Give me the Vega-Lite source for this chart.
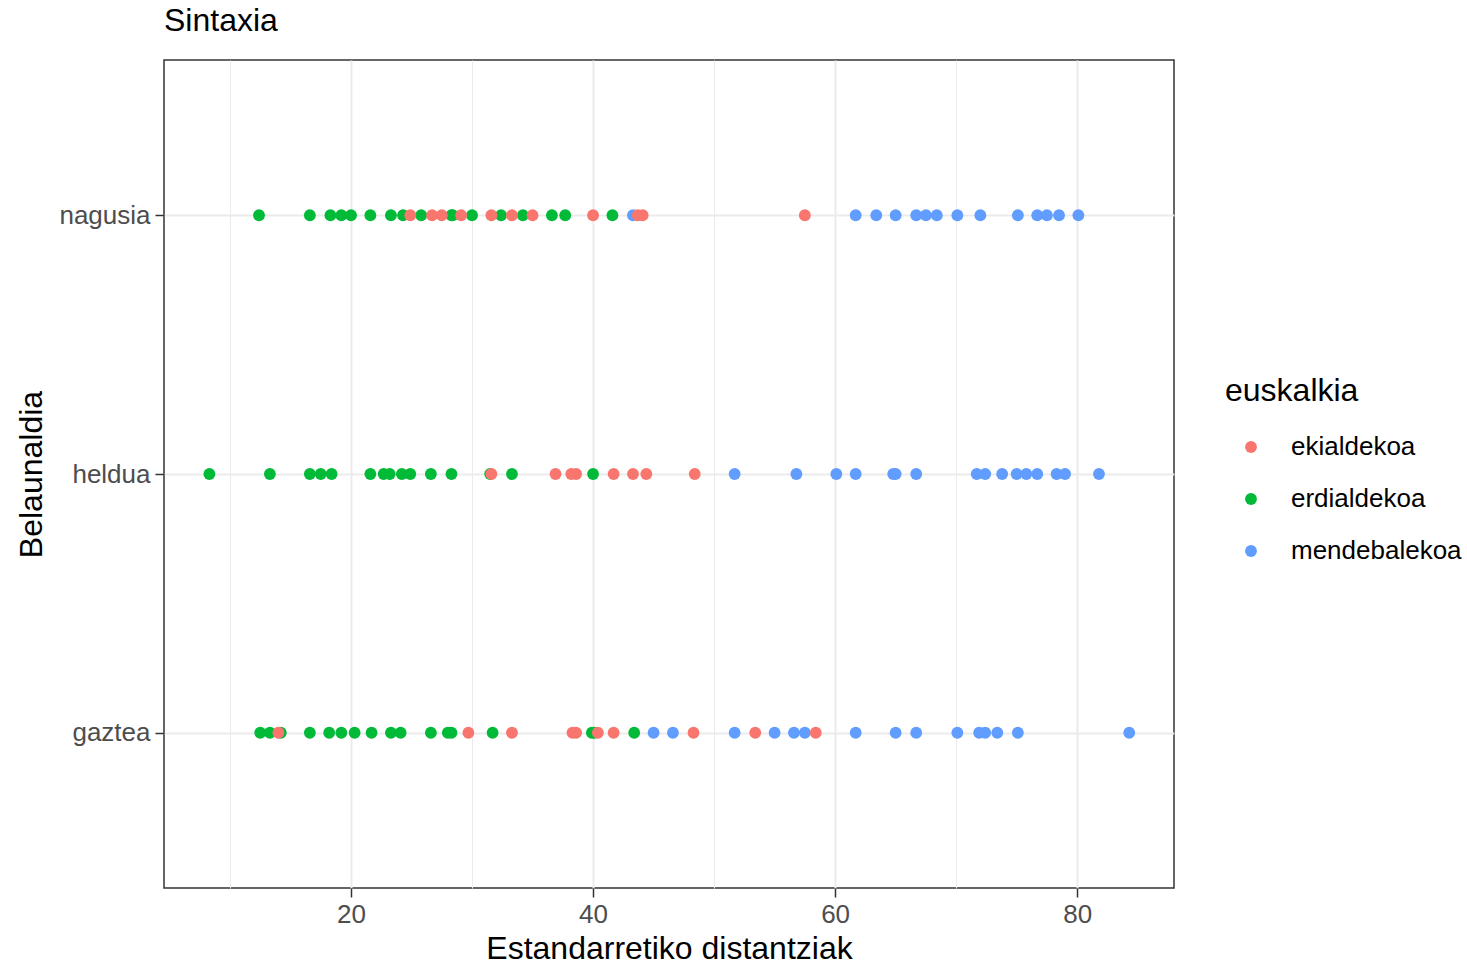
{
  "$schema": "https://vega.github.io/schema/vega-lite/v6.json",
  "width": 1010,
  "height": 828,
  "autosize": "none",
  "padding": {"left": 164, "top": 60, "right": 293, "bottom": 81},
  "background": "white",
  "config": {
    "font": "Liberation Sans",
    "view": {"stroke": "#333333", "strokeWidth": 1.5}
  },
  "title": {"text": "Sintaxia", "anchor": "start", "frame": "group", "fontSize": 32, "fontWeight": "normal", "color": "black", "offset": 22},
  "datasets": {
    "pts": [
      {"b":"nagusia","e":"erdialdekoa","d":12.4},{"b":"nagusia","e":"erdialdekoa","d":16.6},{"b":"nagusia","e":"erdialdekoa","d":18.3},{"b":"nagusia","e":"erdialdekoa","d":19.2},{"b":"nagusia","e":"erdialdekoa","d":20.0},{"b":"nagusia","e":"erdialdekoa","d":21.6},{"b":"nagusia","e":"erdialdekoa","d":23.3},{"b":"nagusia","e":"erdialdekoa","d":24.3},{"b":"nagusia","e":"erdialdekoa","d":25.8},{"b":"nagusia","e":"erdialdekoa","d":28.3},{"b":"nagusia","e":"erdialdekoa","d":28.4},{"b":"nagusia","e":"erdialdekoa","d":30.0},{"b":"nagusia","e":"erdialdekoa","d":32.4},{"b":"nagusia","e":"erdialdekoa","d":34.2},{"b":"nagusia","e":"erdialdekoa","d":36.6},{"b":"nagusia","e":"erdialdekoa","d":37.7},{"b":"nagusia","e":"erdialdekoa","d":41.6},
      {"b":"heldua","e":"erdialdekoa","d":8.3},{"b":"heldua","e":"erdialdekoa","d":13.3},{"b":"heldua","e":"erdialdekoa","d":16.6},{"b":"heldua","e":"erdialdekoa","d":17.5},{"b":"heldua","e":"erdialdekoa","d":18.4},{"b":"heldua","e":"erdialdekoa","d":21.6},{"b":"heldua","e":"erdialdekoa","d":22.7},{"b":"heldua","e":"erdialdekoa","d":23.2},{"b":"heldua","e":"erdialdekoa","d":24.2},{"b":"heldua","e":"erdialdekoa","d":24.9},{"b":"heldua","e":"erdialdekoa","d":26.6},{"b":"heldua","e":"erdialdekoa","d":28.3},{"b":"heldua","e":"erdialdekoa","d":31.5},{"b":"heldua","e":"erdialdekoa","d":33.3},{"b":"heldua","e":"erdialdekoa","d":40.0},
      {"b":"gaztea","e":"erdialdekoa","d":12.5},{"b":"gaztea","e":"erdialdekoa","d":13.3},{"b":"gaztea","e":"erdialdekoa","d":14.2},{"b":"gaztea","e":"erdialdekoa","d":16.6},{"b":"gaztea","e":"erdialdekoa","d":18.2},{"b":"gaztea","e":"erdialdekoa","d":19.2},{"b":"gaztea","e":"erdialdekoa","d":20.3},{"b":"gaztea","e":"erdialdekoa","d":21.7},{"b":"gaztea","e":"erdialdekoa","d":23.3},{"b":"gaztea","e":"erdialdekoa","d":24.1},{"b":"gaztea","e":"erdialdekoa","d":26.6},{"b":"gaztea","e":"erdialdekoa","d":28.0},{"b":"gaztea","e":"erdialdekoa","d":28.3},{"b":"gaztea","e":"erdialdekoa","d":31.7},{"b":"gaztea","e":"erdialdekoa","d":39.9},{"b":"gaztea","e":"erdialdekoa","d":40.1},{"b":"gaztea","e":"erdialdekoa","d":43.4},
      {"b":"nagusia","e":"mendebalekoa","d":43.3},{"b":"nagusia","e":"mendebalekoa","d":61.7},{"b":"nagusia","e":"mendebalekoa","d":63.4},{"b":"nagusia","e":"mendebalekoa","d":65.0},{"b":"nagusia","e":"mendebalekoa","d":66.7},{"b":"nagusia","e":"mendebalekoa","d":67.5},{"b":"nagusia","e":"mendebalekoa","d":68.4},{"b":"nagusia","e":"mendebalekoa","d":70.1},{"b":"nagusia","e":"mendebalekoa","d":72.0},{"b":"nagusia","e":"mendebalekoa","d":75.1},{"b":"nagusia","e":"mendebalekoa","d":76.7},{"b":"nagusia","e":"mendebalekoa","d":77.5},{"b":"nagusia","e":"mendebalekoa","d":78.5},{"b":"nagusia","e":"mendebalekoa","d":80.1},
      {"b":"heldua","e":"mendebalekoa","d":51.7},{"b":"heldua","e":"mendebalekoa","d":56.8},{"b":"heldua","e":"mendebalekoa","d":60.1},{"b":"heldua","e":"mendebalekoa","d":61.7},{"b":"heldua","e":"mendebalekoa","d":64.8},{"b":"heldua","e":"mendebalekoa","d":65.0},{"b":"heldua","e":"mendebalekoa","d":66.7},{"b":"heldua","e":"mendebalekoa","d":71.7},{"b":"heldua","e":"mendebalekoa","d":72.4},{"b":"heldua","e":"mendebalekoa","d":73.8},{"b":"heldua","e":"mendebalekoa","d":75.0},{"b":"heldua","e":"mendebalekoa","d":75.8},{"b":"heldua","e":"mendebalekoa","d":76.7},{"b":"heldua","e":"mendebalekoa","d":78.3},{"b":"heldua","e":"mendebalekoa","d":79.0},{"b":"heldua","e":"mendebalekoa","d":81.8},
      {"b":"gaztea","e":"mendebalekoa","d":45.0},{"b":"gaztea","e":"mendebalekoa","d":46.6},{"b":"gaztea","e":"mendebalekoa","d":51.7},{"b":"gaztea","e":"mendebalekoa","d":55.0},{"b":"gaztea","e":"mendebalekoa","d":56.6},{"b":"gaztea","e":"mendebalekoa","d":57.5},{"b":"gaztea","e":"mendebalekoa","d":61.7},{"b":"gaztea","e":"mendebalekoa","d":65.0},{"b":"gaztea","e":"mendebalekoa","d":66.7},{"b":"gaztea","e":"mendebalekoa","d":70.1},{"b":"gaztea","e":"mendebalekoa","d":71.9},{"b":"gaztea","e":"mendebalekoa","d":72.4},{"b":"gaztea","e":"mendebalekoa","d":73.4},{"b":"gaztea","e":"mendebalekoa","d":75.1},{"b":"gaztea","e":"mendebalekoa","d":84.3},
      {"b":"nagusia","e":"ekialdekoa","d":24.9},{"b":"nagusia","e":"ekialdekoa","d":26.7},{"b":"nagusia","e":"ekialdekoa","d":27.5},{"b":"nagusia","e":"ekialdekoa","d":29.1},{"b":"nagusia","e":"ekialdekoa","d":31.6},{"b":"nagusia","e":"ekialdekoa","d":33.3},{"b":"nagusia","e":"ekialdekoa","d":35.0},{"b":"nagusia","e":"ekialdekoa","d":40.0},{"b":"nagusia","e":"ekialdekoa","d":43.7},{"b":"nagusia","e":"ekialdekoa","d":44.1},{"b":"nagusia","e":"ekialdekoa","d":57.5},
      {"b":"heldua","e":"ekialdekoa","d":31.6},{"b":"heldua","e":"ekialdekoa","d":36.9},{"b":"heldua","e":"ekialdekoa","d":38.2},{"b":"heldua","e":"ekialdekoa","d":38.6},{"b":"heldua","e":"ekialdekoa","d":41.7},{"b":"heldua","e":"ekialdekoa","d":43.3},{"b":"heldua","e":"ekialdekoa","d":44.4},{"b":"heldua","e":"ekialdekoa","d":48.4},
      {"b":"gaztea","e":"ekialdekoa","d":14.0},{"b":"gaztea","e":"ekialdekoa","d":29.7},{"b":"gaztea","e":"ekialdekoa","d":33.3},{"b":"gaztea","e":"ekialdekoa","d":38.3},{"b":"gaztea","e":"ekialdekoa","d":38.6},{"b":"gaztea","e":"ekialdekoa","d":40.4},{"b":"gaztea","e":"ekialdekoa","d":41.7},{"b":"gaztea","e":"ekialdekoa","d":48.3},{"b":"gaztea","e":"ekialdekoa","d":53.4},{"b":"gaztea","e":"ekialdekoa","d":58.4}
    ]
  },
  "data": {"name": "pts"},
  "mark": {"type": "circle", "size": 140, "opacity": 1},
  "encoding": {
    "x": {
      "field": "d", "type": "quantitative",
      "scale": {"domain": [4.55, 88.0], "nice": false, "zero": false},
      "axis": {
        "title": "Estandarretiko distantziak",
        "values": [10, 20, 30, 40, 50, 60, 70, 80],
        "labelExpr": "datum.value % 20 === 0 ? datum.label : ''",
        "labelFontSize": 26, "labelColor": "#4d4d4d", "labelPadding": 4,
        "titleFontSize": 32, "titleFontWeight": "normal", "titleColor": "black", "titlePadding": 6,
        "domain": false,
        "tickColor": "#333333", "tickSize": 9, "tickWidth": 1.5,
        "tickOpacity": {"condition": {"test": "datum.value % 20 === 0", "value": 1}, "value": 0},
        "grid": true, "gridColor": "#ebebeb",
        "gridWidth": {"condition": {"test": "datum.value % 20 === 0", "value": 2}, "value": 1}
      }
    },
    "y": {
      "field": "b", "type": "nominal",
      "scale": {"type": "point", "domain": ["nagusia", "heldua", "gaztea"], "padding": 0.6},
      "axis": {
        "title": "Belaunaldia",
        "labelFontSize": 26, "labelColor": "#4d4d4d", "labelPadding": 5,
        "titleFontSize": 32, "titleFontWeight": "normal", "titleColor": "black", "titlePadding": 10,
        "domain": false,
        "tickColor": "#333333", "tickSize": 9, "tickWidth": 1.5,
        "grid": true, "gridColor": "#ebebeb", "gridWidth": 2
      }
    },
    "color": {
      "field": "e", "type": "nominal",
      "scale": {"domain": ["ekialdekoa", "erdialdekoa", "mendebalekoa"], "range": ["#F8766D", "#00BA38", "#619CFF"]},
      "legend": {
        "title": "euskalkia",
        "orient": "none", "legendX": 1061, "legendY": 316,
        "titleFontSize": 32, "titleFontWeight": "normal", "titleColor": "black", "titlePadding": 26,
        "labelFontSize": 26, "labelColor": "black", "labelOffset": 27, "labelLimit": 400,
        "symbolType": "circle", "symbolSize": 140, "symbolOffset": 13, "symbolStrokeWidth": 0,
        "rowPadding": 26
      }
    }
  }
}
